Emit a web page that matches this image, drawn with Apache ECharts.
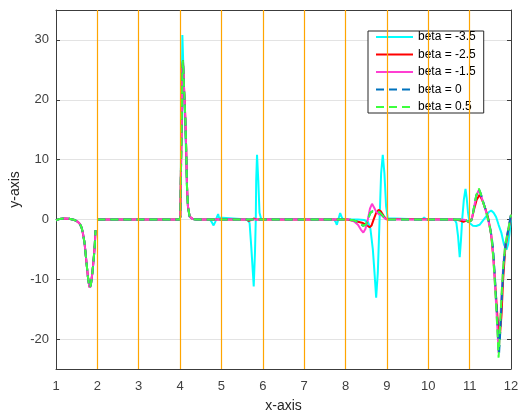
<!DOCTYPE html>
<html>
<head>
<meta charset="utf-8">
<script src="https://cdn.jsdelivr.net/npm/echarts@6/dist/echarts.min.js"></script>
<style>
html,body{margin:0;padding:0;background:#fff;}
#chart{width:519px;height:414px;}
</style>
</head>
<body>
<div id="chart"></div>
<script>
// ---- data ----
const seriesNames = ['beta = -3.5', 'beta = -2.5', 'beta = -1.5', 'beta = 0', 'beta = 0.5'];
const vLines = [2, 3, 4, 5, 6, 7, 8, 9, 10, 11];
const xTickLabels = ['1','2','3','4','5','6','7','8','9','10','11','12'];
const yTickLabels = ['-20','-10','0','10','20','30'];

const betaM35 = [
  [1.00,-0.15],[1.08,0.05],[1.20,0.15],[1.32,0.10],[1.45,-0.10],[1.53,-0.40],[1.58,-0.80],[1.62,-1.40],[1.65,-2.30],[1.69,-3.90],[1.73,-6.70],[1.77,-9.50],[1.80,-11.0],[1.82,-11.4],[1.845,-10.8],[1.88,-8.9],[1.91,-6.7],[1.935,-4.6],[1.955,-1.8],
  [1.975,null],
  [2.00,0],[3.99,0],[4.007,0.5],[4.02,9.0],[4.04,21.0],[4.055,30.8],[4.07,27.5],[4.09,22.0],[4.12,16.0],[4.145,11.0],[4.165,5.5],[4.19,2.0],[4.23,0.4],[4.31,0.05],[4.40,0],
  [4.72,0],[4.77,-0.5],[4.81,-1.0],[4.85,-0.4],[4.89,0.4],[4.92,0.9],[4.94,0.3],[4.97,0],
  [5.62,0],[5.68,-0.6],[5.72,-4.5],[5.76,-8.9],[5.78,-11.2],[5.81,-5.6],[5.83,0],[5.84,6.6],[5.86,10.8],[5.89,6.6],[5.92,1.1],[5.96,0.05],
  [7.72,0],[7.76,-0.4],[7.79,-0.9],[7.83,0.1],[7.87,1.05],[7.90,0.5],[7.94,0],
  [8.30,0],[8.45,-0.1],[8.54,-0.4],[8.60,-1.5],[8.66,-5.0],[8.70,-8.9],[8.74,-13.1],[8.78,-8.9],[8.82,-0.6],[8.86,7.7],[8.90,10.8],[8.94,7.7],[8.98,2.2],[9.02,0.2],[9.06,0],
  [9.85,0],[9.90,0.3],[9.95,0],
  [10.60,0],[10.65,-0.2],[10.68,-0.6],[10.72,-2.8],[10.76,-6.3],[10.79,-3.5],[10.82,0],[10.86,3.3],[10.90,5.1],[10.93,3.5],[10.96,1.2],[11.00,-0.6],[11.08,-1.05],[11.16,-1.1],[11.24,-0.9],[11.32,-0.2],[11.40,0.5],[11.46,1.2],[11.52,1.5],[11.58,1.1],[11.64,0.4],[11.70,-0.9],[11.77,-2.3],[11.83,-4.2],[11.89,-5.05],[11.93,-4.2],[11.97,-2.0],[12.00,0.3]
];

const betaM25 = [
  [1.00,-0.15],[1.08,0.05],[1.20,0.15],[1.32,0.10],[1.45,-0.10],[1.53,-0.40],[1.58,-0.80],[1.62,-1.40],[1.65,-2.30],[1.69,-3.90],[1.73,-6.70],[1.77,-9.50],[1.80,-11.0],[1.82,-11.4],[1.845,-10.8],[1.88,-8.9],[1.91,-6.7],[1.935,-4.6],[1.955,-1.8],
  [1.975,null],
  [2.00,0],[3.99,0],[4.007,0.5],[4.015,5.5],[4.04,16.6],[4.055,25.0],[4.07,26.6],[4.094,22.2],[4.128,16.6],[4.15,11.0],[4.167,5.5],[4.19,2.2],[4.23,0.5],[4.31,0.05],[4.40,0],
  [5.60,0],[5.66,-0.25],[5.72,-0.1],[5.78,0.15],[5.84,0],
  [8.05,0],[8.15,-0.2],[8.30,-0.4],[8.42,-0.6],[8.50,-0.9],[8.58,-1.3],[8.63,-1.0],[8.68,0],[8.74,1.1],[8.80,1.6],[8.86,1.3],[8.92,0.6],[8.98,0.05],
  [10.60,0],[10.75,-0.15],[10.85,-0.4],[10.92,-0.2],[10.97,-0.4],[11.00,-0.6],[11.05,0],[11.10,1.5],[11.17,3.3],[11.24,4.1],[11.30,3.3],[11.38,1.8],[11.45,0.2],[11.52,-2.5],[11.58,-7.0],[11.64,-13.0],[11.69,-18.0],[11.73,-19.6],[11.77,-16.0],[11.81,-10.0],[11.86,-5.0],[11.93,-2.0],[12.00,0.5]
];

const betaM15 = [
  [1.00,-0.15],[1.08,0.05],[1.20,0.15],[1.32,0.10],[1.45,-0.10],[1.53,-0.40],[1.58,-0.80],[1.62,-1.40],[1.65,-2.30],[1.69,-3.90],[1.73,-6.70],[1.77,-9.50],[1.80,-11.0],[1.82,-11.4],[1.845,-10.8],[1.88,-8.9],[1.91,-6.7],[1.935,-4.6],[1.955,-1.8],
  [1.975,null],
  [2.00,0],[3.99,0],[4.007,0.5],[4.015,5.5],[4.04,16.6],[4.055,25.0],[4.07,26.4],[4.094,22.2],[4.128,16.6],[4.15,11.0],[4.167,5.5],[4.19,2.2],[4.23,0.5],[4.31,0.05],[4.40,0],
  [8.10,0],[8.20,-0.3],[8.30,-0.9],[8.37,-1.7],[8.43,-2.2],[8.48,-1.6],[8.54,0],[8.59,1.8],[8.64,2.6],[8.69,2.0],[8.74,1.3],[8.80,0.9],[8.87,0.7],[8.93,0.3],[8.99,0],
  [10.80,0],[10.90,-0.1],[10.96,-0.35],[11.00,-0.6],[11.04,-0.2],[11.08,1.0],[11.12,2.5],[11.16,3.9],[11.22,4.9],[11.27,4.2],[11.32,3.0],[11.40,1.2],[11.48,-1.0],[11.53,-3.0],[11.56,-5.0],[11.60,-9.5],[11.65,-15.4],[11.685,-20.2],[11.70,-22.3],[11.72,-20.3],[11.74,-17.0],[11.77,-13.0],[11.81,-8.0],[11.86,-4.3],[11.93,-1.8],[12.00,0.8]
];

const beta0 = [
  [1.00,-0.15],[1.08,0.05],[1.20,0.15],[1.32,0.10],[1.45,-0.10],[1.53,-0.40],[1.58,-0.80],[1.62,-1.40],[1.65,-2.30],[1.69,-3.90],[1.73,-6.70],[1.77,-9.50],[1.80,-11.0],[1.82,-11.4],[1.845,-10.8],[1.88,-8.9],[1.91,-6.7],[1.935,-4.6],[1.955,-1.8],
  [1.975,null],
  [2.00,0],[3.99,0],[4.007,0.5],[4.015,5.5],[4.04,16.6],[4.055,25.0],[4.07,26.6],[4.094,22.2],[4.128,16.6],[4.15,11.0],[4.167,5.5],[4.19,2.2],[4.23,0.5],[4.31,0.05],[4.40,0],
  [8.05,0],[8.20,-0.15],[8.32,-0.5],[8.42,-1.05],[8.49,-0.9],[8.55,0.2],[8.60,1.1],[8.65,1.35],[8.75,1.3],[8.82,1.2],[8.88,0.8],[8.94,0.3],[8.99,0],
  [10.80,0],[10.90,-0.1],[10.96,-0.35],[11.00,-0.6],[11.04,-0.2],[11.08,1.0],[11.12,2.6],[11.16,4.0],[11.22,5.1],[11.27,4.3],[11.32,3.1],[11.40,1.3],[11.48,-0.8],[11.53,-2.8],[11.57,-5.0],[11.61,-9.5],[11.66,-15.6],[11.69,-20.0],[11.71,-22.6],[11.735,-19.5],[11.755,-16.5],[11.78,-12.5],[11.82,-7.6],[11.87,-4.0],[11.94,-1.5],[12.00,0.9]
];

const beta05 = [
  [1.00,-0.15],[1.08,0.05],[1.20,0.15],[1.32,0.10],[1.45,-0.10],[1.53,-0.40],[1.58,-0.80],[1.62,-1.40],[1.65,-2.30],[1.69,-3.90],[1.73,-6.70],[1.77,-9.50],[1.80,-11.0],[1.82,-11.4],[1.845,-10.8],[1.88,-8.9],[1.91,-6.7],[1.935,-4.6],[1.955,-1.8],
  [1.975,null],
  [2.00,0],[3.99,0],[4.007,0.5],[4.015,5.5],[4.04,16.6],[4.055,25.0],[4.07,26.6],[4.094,22.2],[4.128,16.6],[4.15,11.0],[4.167,5.5],[4.19,2.2],[4.23,0.5],[4.31,0.05],[4.40,0],
  [8.05,0],[8.20,-0.15],[8.32,-0.5],[8.42,-1.05],[8.49,-0.9],[8.55,0.2],[8.60,1.1],[8.65,1.35],[8.75,1.3],[8.82,1.2],[8.88,0.8],[8.94,0.3],[8.99,0],
  [10.80,0],[10.90,-0.1],[10.96,-0.35],[11.00,-0.6],[11.04,-0.2],[11.08,1.0],[11.12,2.6],[11.16,4.0],[11.22,5.2],[11.27,4.3],[11.32,3.0],[11.40,1.2],[11.48,-1.0],[11.53,-3.0],[11.56,-5.0],[11.60,-9.5],[11.65,-15.6],[11.685,-20.5],[11.70,-23.1],[11.72,-20.5],[11.74,-17.0],[11.77,-13.0],[11.81,-8.0],[11.86,-4.3],[11.93,-1.8],[12.00,0.8]
];

const seriesData = [betaM35, betaM25, betaM15, beta0, beta05];
const seriesColors = ['#00ffff', '#ff0000', '#ff3fd2', '#0072bd', '#3dff3d'];
const seriesDash = ['solid', 'solid', 'solid', [8, 5], [8, 5]];

// ---- chart ----
const FONT = 'Liberation Sans, Arial, sans-serif';
const AXIS_COLOR = '#3c3c3c';
const LABEL_COLOR = '#404040';
const chart = echarts.init(document.getElementById('chart'), null, {renderer: 'canvas'});

const lineSeries = seriesNames.map((name, i) => ({
  name: name,
  type: 'line',
  data: seriesData[i],
  xAxisIndex: 0,
  yAxisIndex: 0,
  symbol: 'none',
  showSymbol: false,
  connectNulls: false,
  smooth: false,
  animation: false,
  color: seriesColors[i],
  lineStyle: {color: seriesColors[i], width: 2, type: seriesDash[i]},
  emphasis: {disabled: true},
  z: 2
}));

lineSeries.push({
  name: 'vlines',
  type: 'line',
  data: [],
  xAxisIndex: 0,
  yAxisIndex: 0,
  symbol: 'none',
  animation: false,
  z: 3,
  markLine: {
    silent: true,
    animation: false,
    symbol: ['none', 'none'],
    label: {show: false},
    lineStyle: {color: '#ffa500', width: 1.2, type: 'solid'},
    emphasis: {disabled: true},
    data: vLines.map(v => ({xAxis: v}))
  }
});

const yFmt = v => (yTickLabels.indexOf(String(v)) >= 0 ? String(v) : '');
const xFmt = v => (xTickLabels.indexOf(String(v)) >= 0 ? String(v) : '');

chart.setOption({
  animation: false,
  backgroundColor: '#ffffff',
  grid: {left: 56, right: 8, top: 10, bottom: 45, containLabel: false, outerBoundsMode: 'none'},
  legend: {
    data: seriesNames,
    orient: 'vertical',
    left: 368,
    top: 31,
    itemWidth: 37,
    itemHeight: 12,
    itemGap: 5.5,
    padding: [0, 8, 0, 7],
    backgroundColor: '#ffffff',
    borderColor: '#262626',
    borderWidth: 1,
    borderRadius: 0,
    selectedMode: false,
    itemStyle: {opacity: 0},
    textStyle: {fontFamily: FONT, fontSize: 12, color: '#000', lineHeight: 12}
  },
  xAxis: [{
    type: 'value', position: 'bottom', min: 1, max: 12, interval: 1,
    name: 'x-axis', nameLocation: 'middle', nameGap: 30, nameMoveOverlap: false,
    nameTextStyle: {fontFamily: FONT, fontSize: 14, color: '#262626'},
    axisLine: {show: true, onZero: false, lineStyle: {color: AXIS_COLOR, width: 1}},
    axisTick: {show: true, inside: true, length: 4, lineStyle: {color: AXIS_COLOR}},
    axisLabel: {show: true, formatter: xFmt, fontFamily: FONT, fontSize: 13, color: LABEL_COLOR, margin: 11},
    splitLine: {show: true, lineStyle: {color: '#e3e3e3', width: 1}}
  }, {
    type: 'value', position: 'top', min: 1, max: 12, interval: 1,
    axisLine: {show: true, onZero: false, lineStyle: {color: AXIS_COLOR, width: 1}},
    axisTick: {show: true, inside: true, length: 4, lineStyle: {color: AXIS_COLOR}},
    axisLabel: {show: false},
    splitLine: {show: false}
  }],
  yAxis: [{
    type: 'value', position: 'left', min: -25, max: 35, splitNumber: 6,
    name: 'y-axis', nameLocation: 'middle', nameGap: 34, nameRotate: 90, nameMoveOverlap: false,
    nameTextStyle: {fontFamily: FONT, fontSize: 14, color: '#262626'},
    axisLine: {show: true, onZero: false, lineStyle: {color: AXIS_COLOR, width: 1}},
    axisTick: {show: true, inside: true, length: 4, lineStyle: {color: AXIS_COLOR}},
    axisLabel: {show: true, formatter: yFmt, showMinLabel: false, showMaxLabel: false, fontFamily: FONT, fontSize: 13, color: LABEL_COLOR, margin: 7},
    splitLine: {show: true, lineStyle: {color: '#e3e3e3', width: 1}}
  }, {
    type: 'value', position: 'right', min: -25, max: 35, splitNumber: 6,
    axisLine: {show: true, onZero: false, lineStyle: {color: AXIS_COLOR, width: 1}},
    axisTick: {show: true, inside: true, length: 4, lineStyle: {color: AXIS_COLOR}},
    axisLabel: {show: false},
    splitLine: {show: false}
  }],
  series: lineSeries
});
</script>
</body>
</html>
